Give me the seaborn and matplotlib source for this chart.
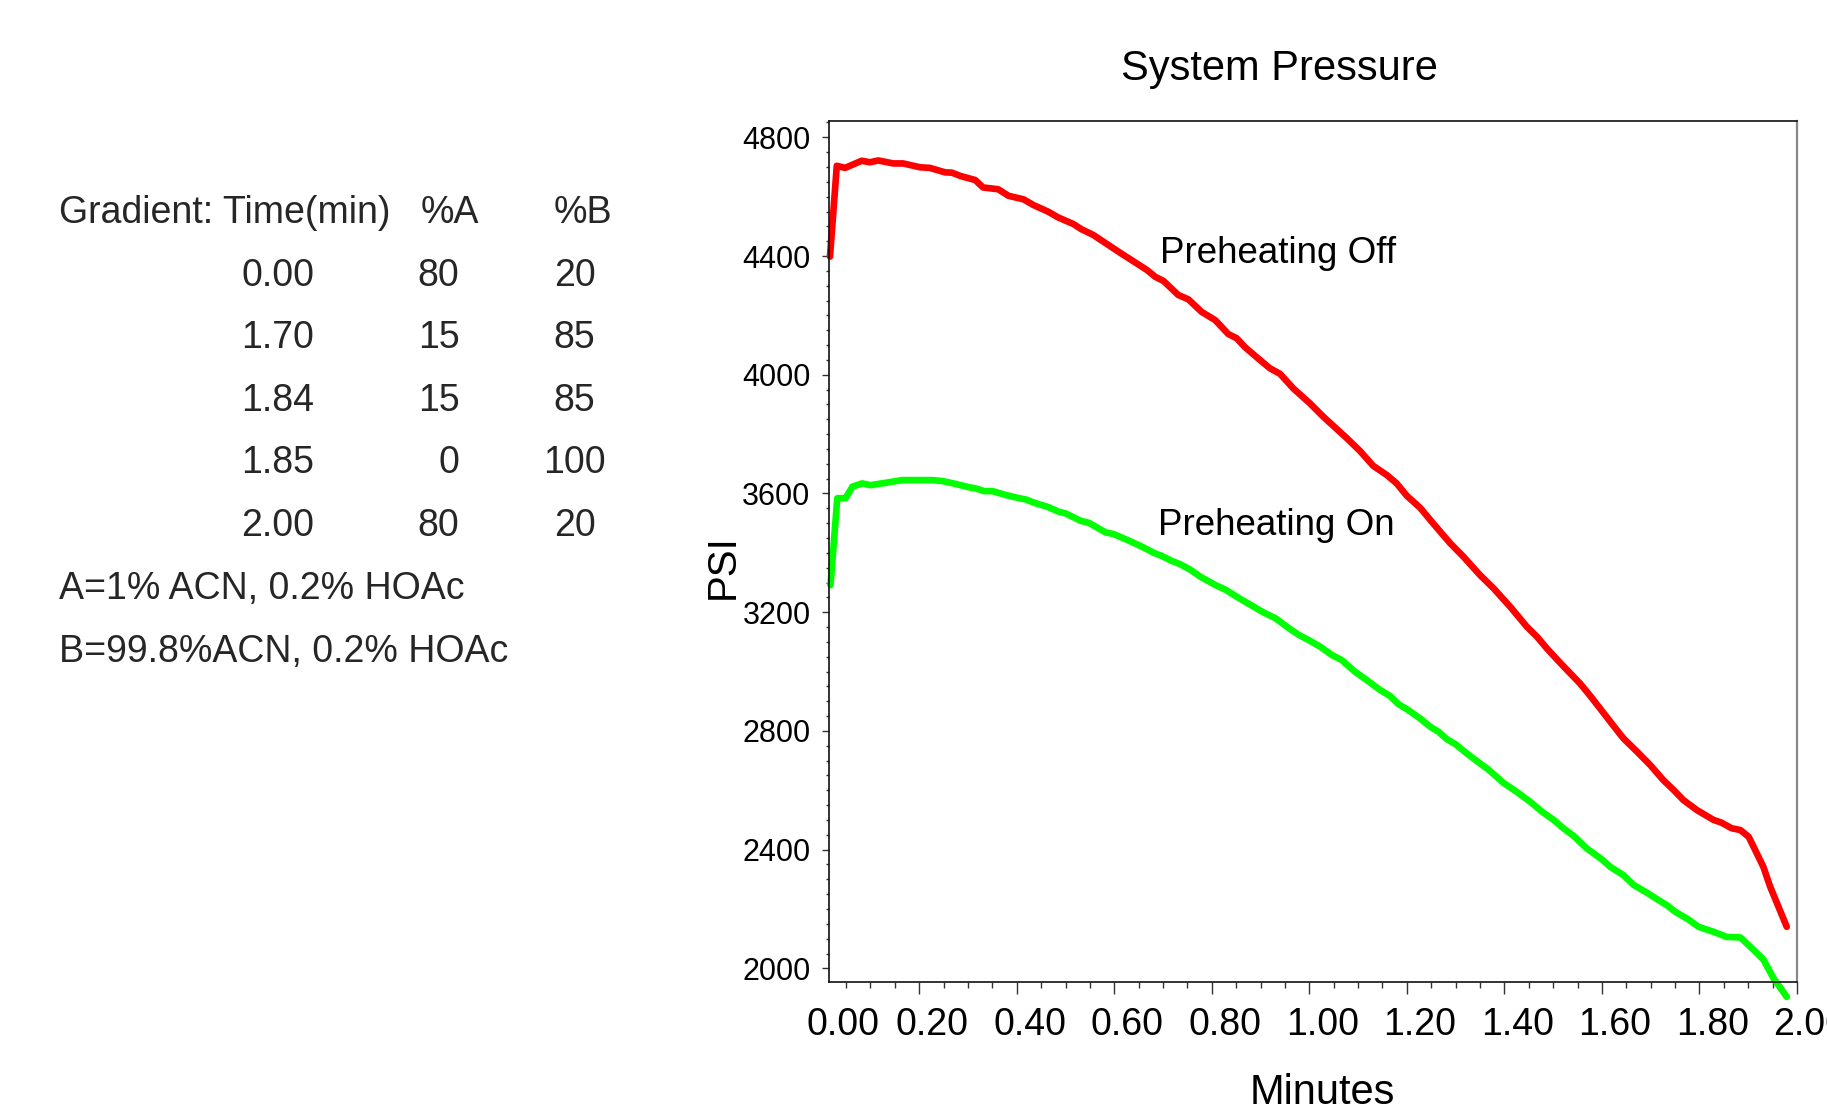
import numpy as np
import pandas as pd
import matplotlib
matplotlib.use("Agg")
import matplotlib.pyplot as plt
import matplotlib.transforms as mtransforms
from matplotlib.ticker import MultipleLocator, FixedLocator
import seaborn as sns

# ---------------- data ----------------
time_off = [0.017, 0.031, 0.048, 0.082, 0.099, 0.116, 0.147, 0.167, 0.202, 0.222,
            0.253, 0.267, 0.284, 0.315, 0.331, 0.362, 0.383, 0.414, 0.434, 0.465,
            0.485, 0.516, 0.533, 0.557, 0.612, 0.667, 0.684, 0.701, 0.731, 0.752,
            0.779, 0.807, 0.834, 0.851, 0.868, 0.895, 0.919, 0.940, 0.967, 1.001,
            1.029, 1.053, 1.077, 1.104, 1.131, 1.159, 1.179, 1.200, 1.227, 1.254,
            1.289, 1.316, 1.350, 1.378, 1.412, 1.446, 1.467, 1.487, 1.514, 1.535,
            1.555, 1.576, 1.596, 1.620, 1.644, 1.672, 1.699, 1.726, 1.747, 1.767,
            1.795, 1.829, 1.845, 1.866, 1.884, 1.901, 1.931, 1.945, 1.979]
psi_off = [4398, 4704, 4697, 4721, 4716, 4722, 4712, 4712, 4699, 4697,
           4682, 4681, 4670, 4656, 4631, 4625, 4603, 4591, 4572, 4549,
           4530, 4508, 4490, 4471, 4411, 4353, 4330, 4316, 4269, 4254,
           4212, 4184, 4137, 4123, 4093, 4055, 4022, 4003, 3954, 3904,
           3858, 3822, 3786, 3743, 3693, 3662, 3634, 3592, 3552, 3499,
           3432, 3387, 3325, 3280, 3218, 3151, 3117, 3078, 3030, 2994,
           2960, 2918, 2876, 2825, 2775, 2730, 2685, 2634, 2601, 2567,
           2533, 2500, 2491, 2472, 2466, 2443, 2342, 2275, 2140]

time_on = [0.018, 0.032, 0.049, 0.063, 0.083, 0.100, 0.131, 0.165, 0.227, 0.247,
           0.275, 0.302, 0.316, 0.333, 0.350, 0.377, 0.405, 0.418, 0.439, 0.463,
           0.487, 0.500, 0.531, 0.548, 0.582, 0.599, 0.630, 0.654, 0.681, 0.698,
           0.719, 0.736, 0.757, 0.777, 0.808, 0.829, 0.856, 0.880, 0.904, 0.931,
           0.958, 0.979, 1.001, 1.022, 1.046, 1.066, 1.094, 1.118, 1.145, 1.166,
           1.183, 1.203, 1.227, 1.248, 1.265, 1.282, 1.299, 1.323, 1.343, 1.367,
           1.398, 1.425, 1.453, 1.477, 1.501, 1.521, 1.542, 1.569, 1.600, 1.617,
           1.644, 1.665, 1.692, 1.716, 1.733, 1.750, 1.777, 1.798, 1.829, 1.856,
           1.884, 1.904, 1.931, 1.952, 1.979]
psi_on = [3291, 3584, 3584, 3623, 3634, 3628, 3636, 3645, 3645, 3642,
          3632, 3621, 3617, 3608, 3608, 3595, 3584, 3580, 3567, 3555,
          3538, 3533, 3508, 3501, 3469, 3463, 3441, 3423, 3400, 3389,
          3372, 3361, 3342, 3319, 3291, 3275, 3247, 3224, 3201, 3179,
          3146, 3123, 3104, 3084, 3056, 3039, 2999, 2971, 2938, 2917,
          2890, 2870, 2842, 2814, 2797, 2772, 2756, 2724, 2699, 2670,
          2625, 2595, 2561, 2528, 2500, 2472, 2446, 2404, 2367, 2342,
          2314, 2281, 2255, 2230, 2213, 2191, 2165, 2140, 2123, 2106,
          2104, 2073, 2030, 1966, 1904]

series_names = ["Preheating Off", "Preheating On"]
series_colors = ["#FF0000", "#00FF00"]

x_ticks = [0.2, 0.4, 0.6, 0.8, 1.0, 1.2, 1.4, 1.6, 1.8, 2.0]
x_tick_labels = ["0.20", "0.40", "0.60", "0.80", "1.00", "1.20", "1.40", "1.60", "1.80", "2.00"]
y_ticks = [2000, 2400, 2800, 3200, 3600, 4000, 4400, 4800]

grad_time = ["0.00", "1.70", "1.84", "1.85", "2.00"]
grad_A = ["80", "15", "15", "0", "80"]
grad_B = ["20", "85", "85", "100", "20"]
solvent_lines = ["A=1% ACN, 0.2% HOAc", "B=99.8%ACN, 0.2% HOAc"]

# ---------------- plot ----------------
sns.set_theme(style="white")
plt.rcParams["font.family"] = ["Liberation Sans", "DejaVu Sans"]

W, H = 1827, 1105
fig = plt.figure(figsize=(W / 100, H / 100), dpi=100)
fig.patch.set_facecolor("white")

def fx(px):
    return px / W

def fy(py):
    return 1 - py / H

ax = fig.add_axes([fx(829), fy(981.7), fx(1797) - fx(829), fy(121) - fy(981.7)])

df = pd.concat([
    pd.DataFrame({"Minutes": time_off, "PSI": psi_off, "Condition": series_names[0]}),
    pd.DataFrame({"Minutes": time_on, "PSI": psi_on, "Condition": series_names[1]}),
], ignore_index=True)

sns.lineplot(data=df, x="Minutes", y="PSI", hue="Condition",
             palette=dict(zip(series_names, series_colors)),
             estimator=None, sort=False, linewidth=4.8, legend=False, ax=ax)
for ln in ax.lines:
    ln.set_clip_on(False)
    ln.set_solid_joinstyle("round")

ax.set_xlim(0.015, 2.0)
ax.set_ylim(1955, 4855)

ax.xaxis.set_major_locator(FixedLocator(x_ticks))
ax.set_xticklabels(x_tick_labels)
ax.xaxis.set_minor_locator(MultipleLocator(0.05))
ax.yaxis.set_major_locator(FixedLocator(y_ticks))
ax.yaxis.set_minor_locator(MultipleLocator(50))

ax.tick_params(axis="both", which="both", bottom=True, left=True, top=False, right=False,
               direction="out", color="#333333", width=1.0, labelcolor="black")
ax.tick_params(axis="y", which="major", length=4.8, labelsize=22, pad=8.5)
ax.tick_params(axis="y", which="minor", length=2.4)
ax.tick_params(axis="x", which="major", length=8.9, labelsize=27, pad=9)
ax.tick_params(axis="x", which="minor", length=4.1)

shift = mtransforms.ScaledTranslation(13 / 100, 0, fig.dpi_scale_trans)
for lab in ax.get_xticklabels():
    lab.set_transform(lab.get_transform() + shift)

# "0.00" label to the left of the first drawn tick
fig.text(fx(843.3), fy(1006.7), "0.00", ha="center", va="top", fontsize=27, color="black")

for side in ["left", "bottom", "top"]:
    ax.spines[side].set_color("#111111")
    ax.spines[side].set_linewidth(1.2)
ax.spines["right"].set_color("#888888")
ax.spines["right"].set_linewidth(1.6)

ax.set_xlabel("Minutes", fontsize=30, color="black")
ax.set_ylabel("PSI", fontsize=29, color="black")
ax.xaxis.set_label_coords((1322.5 - 829) / 968, (981.7 - 1073) / 860.7)
ax.yaxis.set_label_coords((742 - 829) / 968, (981.7 - 566.7) / 860.7)

fig.text(fx(1279.7), fy(80), "System Pressure", ha="center", va="baseline",
         fontsize=30, color="black")

fig.text(fx(1160), fy(263.3), series_names[0], ha="left", va="baseline",
         fontsize=26.5, color="black")
fig.text(fx(1158.3), fy(535), series_names[1], ha="left", va="baseline",
         fontsize=26.5, color="black")

# gradient table
tfs = 27
fig.text(fx(59.3), fy(223.3), "Gradient: Time(min)", ha="left", va="baseline", fontsize=tfs)
fig.text(fx(420.8), fy(223.3), "%A", ha="left", va="baseline", fontsize=tfs)
fig.text(fx(553.5), fy(223.3), "%B", ha="left", va="baseline", fontsize=tfs)
row_base = [286.0, 348.3, 411.0, 473.3, 536.0]
for b, t, a, bb in zip(row_base, grad_time, grad_A, grad_B):
    fig.text(fx(314.3), fy(b), t, ha="right", va="baseline", fontsize=tfs)
    fig.text(fx(459.4), fy(b), a, ha="right", va="baseline", fontsize=tfs)
    fig.text(fx(574.6), fy(b), bb, ha="center", va="baseline", fontsize=tfs)
for b, s in zip([599.3, 661.7], solvent_lines):
    fig.text(fx(59.3), fy(b), s, ha="left", va="baseline", fontsize=tfs)

fig.savefig("out.png", dpi=100, facecolor="white")
